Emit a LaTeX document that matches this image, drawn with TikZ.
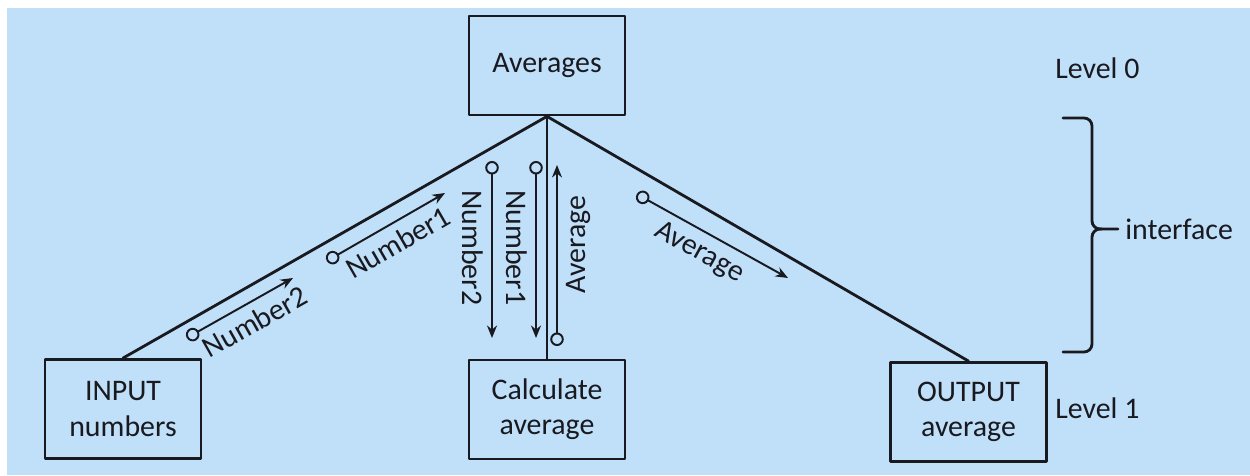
\documentclass[tikz,border=0pt]{standalone}
\usepackage{fontspec}
\setmainfont{Carlito}
\usetikzlibrary{arrows.meta,positioning}
\definecolor{paper}{RGB}{192,223,248}
\definecolor{ink}{RGB}{25,25,32}
\tikzset{
  module/.style={draw=ink,line width=1.6pt,minimum width=3.12cm,minimum height=1.98cm,
    align=center,text=ink,font=\fontsize{17}{20}\selectfont},
  link/.style={draw=ink,line width=1.6pt},
  flow/.style={draw=ink,line width=1.1pt,
    {Circle[open,length=2.7mm,width=2.7mm]}-{Stealth[length=2.5mm,width=2mm]}},
  flowlabel/.style={sloped,text=ink,inner sep=4.5pt,font=\fontsize{17}{20}\selectfont},
  lvl/.style={text=ink,inner sep=0pt,font=\fontsize{17}{20}\selectfont},
  brace/.style={draw=ink,line width=1.6pt,rounded corners=0.16cm},
}
\begin{document}
\begin{tikzpicture}[x=0.02cm,y=-0.02cm,line join=round,line cap=round]
	\useasboundingbox (0,0) rectangle (1250,476);
	\fill[paper] (7,8) rectangle (1250,475);
	% level 0 and level 1 modules
	\node[module] (ave) at (547,65.5) {Averages};
	\node[module] (inp) at (123,409) {INPUT\\numbers};
	\node[module] (calc) at (547,409.5) {Calculate\\average};
	\node[module] (out) at (968.5,412) {OUTPUT\\average};
	\draw[link] (ave.south) -- (inp.north);
	\draw[link] (ave.south) -- (calc.north);
	\draw[link] (ave.south) -- (out.north);
	% data passed along the links
	\coordinate (n2a) at (186.8,337.9);
	\coordinate (n2b) at (293,278);
	\coordinate (n1a) at (326.8,261);
	\coordinate (n1b) at (445,193);
	\coordinate (c2a) at (492,161);
	\coordinate (c2b) at (492,338);
	\coordinate (c1a) at (536,161);
	\coordinate (c1b) at (536,338);
	\coordinate (cava) at (557,346);
	\coordinate (cavb) at (557,165);
	\coordinate (oava) at (636.8,194.1);
	\coordinate (oavb) at (788,278);
	\draw[flow] (n2a) -- node[flowlabel,below,pos=0.55] {Number2} (n2b);
	\draw[flow] (n1a) -- node[flowlabel,below,pos=0.52] {Number1} (n1b);
	\draw[flow] (c2a) -- node[flowlabel,below,pos=0.49] {Number2} (c2b);
	\draw[flow] (c1a) -- node[flowlabel,below,pos=0.49] {Number1} (c1b);
	\draw[flow] (cava) -- node[flowlabel,below,pos=0.56] {Average} (cavb);
	\draw[flow] (oava) -- node[flowlabel,below,pos=0.48] {Average} (oavb);
	% levels and interface brace
	\node[lvl,anchor=west] (lv0) at (1055,68) {Level 0};
	\node[lvl,anchor=west] (lv1) at (1055,408) {Level 1};
	\coordinate (btop) at (1063,118);
	\coordinate (bbot) at (1063,352);
	\coordinate (btip) at (1118,229);
	\draw[brace] (btop) -- (1092,118) -- (1092,229) -- (btip);
	\draw[brace] (bbot) -- (1092,352) -- (1092,229) -- (1102,229);
	\node[lvl,right=0.14cm of btip] (intf) {interface};
\end{tikzpicture}
\end{document}
